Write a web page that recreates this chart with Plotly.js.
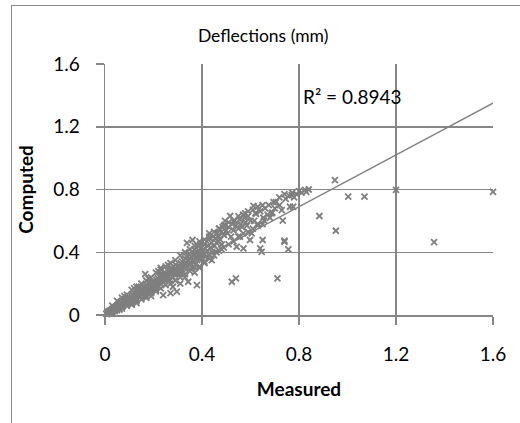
<!DOCTYPE html>
<html>
<head>
<meta charset="utf-8">
<script src="https://cdn.plot.ly/plotly-3.0.1.min.js"></script>
<style>
  html, body { margin: 0; padding: 0; background: #fff; }
  #wrap { position: relative; width: 520px; height: 423px; overflow: hidden; }
  #chart { position: absolute; left: 0; top: 0; width: 520px; height: 423px; }
  #frame { position: absolute; left: 11px; top: 5px; width: 700px; height: 700px;
           border-left: 1px solid #8a8a8a; border-top: 1px solid #8a8a8a; pointer-events: none; }
</style>
</head>
<body>
<div id="wrap"><div id="chart"></div><div id="frame"></div></div>
<script>
// Measured vs computed deflections (mm)
const measured = [
  0.005,0.01,0.012,0.015,0.018,0.02,0.022,0.025,0.028,0.03,0.032,0.035,0.038,0.04,0.042,0.045,0.048,0.01,0.02,0.03,0.04,0.05,
  0.052,0.055,0.058,0.06,0.062,0.065,0.068,0.07,0.072,0.075,0.078,0.08,0.082,0.085,0.088,0.09,0.092,0.095,0.098,0.1,0.06,0.07,0.08,0.09,
  0.102,0.105,0.108,0.11,0.112,0.115,0.118,0.12,0.122,0.125,0.128,0.13,0.132,0.135,0.138,0.14,0.142,0.145,0.148,0.15,0.11,0.12,0.13,0.14,
  0.152,0.155,0.158,0.16,0.162,0.165,0.168,0.17,0.172,0.175,0.178,0.18,0.182,0.185,0.188,0.19,0.192,0.195,0.198,0.2,0.166,0.17,0.18,0.19,
  0.202,0.205,0.208,0.21,0.212,0.215,0.218,0.22,0.222,0.225,0.228,0.23,0.232,0.235,0.238,0.24,0.242,0.245,0.248,0.25,0.21,0.22,0.24,0.23,
  0.252,0.255,0.258,0.26,0.262,0.265,0.268,0.27,0.272,0.275,0.278,0.28,0.282,0.285,0.288,0.29,0.292,0.295,0.298,0.3,0.27,0.296,0.26,0.28,
  0.302,0.305,0.308,0.31,0.312,0.315,0.318,0.32,0.322,0.325,0.328,0.33,0.332,0.335,0.338,0.34,0.342,0.345,0.348,0.35,0.338,0.343,0.31,0.33,
  0.352,0.355,0.358,0.36,0.362,0.365,0.368,0.37,0.372,0.375,0.378,0.38,0.382,0.385,0.388,0.39,0.392,0.395,0.398,0.4,0.361,0.379,0.37,0.39,
  0.402,0.405,0.41,0.412,0.415,0.42,0.422,0.425,0.43,0.432,0.435,0.44,0.442,0.445,0.45,0.41,0.43,0.44,
  0.452,0.455,0.46,0.462,0.465,0.47,0.472,0.475,0.48,0.482,0.485,0.49,0.495,0.5,0.46,0.48,0.495,
  0.505,0.51,0.516,0.52,0.525,0.53,0.535,0.54,0.543,0.55,0.555,0.557,0.56,0.565,0.571,0.575,0.578,0.58,0.585,0.59,0.598,0.6,
  0.605,0.612,0.615,0.62,0.623,0.63,0.64,0.64,0.646,0.65,0.653,0.656,0.66,0.67,0.675,0.68,0.687,0.69,0.695,0.7,
  0.705,0.711,0.719,0.72,0.729,0.733,0.74,0.74,0.74,0.745,0.756,0.76,0.763,0.77,0.772,0.776,0.78,0.79,0.8,0.81,0.825,0.83,0.84,
  0.523,0.54,0.884,0.948,0.952,1.003,1.07,1.2,1.357,1.6,
  0.03,0.05,0.07,0.09,0.11,0.13,0.15,0.17,0.19,0.21,0.23,0.25,0.27,0.29,0.31,0.33,0.35,0.37,0.39,0.41,0.43,0.45,0.47,0.49,0.51,0.53,0.55,0.57,0.59,0.61,0.63,0.65,
  0.03,0.05,0.07,0.09,0.11,0.13,0.15,0.17,0.19,0.21,0.23,0.25,0.27,0.29,0.31,0.33,0.35,0.37,0.39,0.41,0.43,0.45,0.47,0.49,0.51,0.53,0.55,0.57,0.59,0.61,0.63,0.65
];
const computed = [
  0.008,0.012,0.02,0.015,0.025,0.018,0.03,0.022,0.035,0.028,0.04,0.03,0.045,0.035,0.05,0.04,0.055,0.005,0.01,0.02,0.025,0.06,
  0.05,0.07,0.045,0.06,0.08,0.055,0.075,0.065,0.09,0.06,0.085,0.07,0.1,0.075,0.095,0.08,0.11,0.085,0.1,0.09,0.035,0.05,0.12,0.06,
  0.1,0.08,0.12,0.095,0.13,0.105,0.09,0.125,0.14,0.11,0.15,0.12,0.1,0.135,0.16,0.13,0.115,0.15,0.17,0.14,0.065,0.17,0.075,0.18,
  0.13,0.16,0.145,0.175,0.12,0.15,0.185,0.16,0.14,0.19,0.17,0.155,0.2,0.18,0.165,0.205,0.15,0.19,0.215,0.175,0.261,0.11,0.23,0.12,
  0.18,0.21,0.17,0.2,0.225,0.19,0.235,0.21,0.18,0.245,0.22,0.2,0.25,0.23,0.26,0.215,0.24,0.27,0.22,0.255,0.15,0.28,0.127,0.3,
  0.23,0.26,0.24,0.28,0.25,0.27,0.22,0.29,0.26,0.3,0.245,0.28,0.31,0.26,0.295,0.27,0.32,0.285,0.26,0.31,0.14,0.149,0.32,0.18,
  0.28,0.31,0.26,0.3,0.33,0.29,0.34,0.31,0.27,0.35,0.32,0.3,0.36,0.33,0.37,0.31,0.35,0.39,0.32,0.36,0.46,0.212,0.2,0.24,
  0.33,0.37,0.3,0.35,0.4,0.34,0.38,0.42,0.32,0.37,0.4,0.35,0.44,0.38,0.41,0.36,0.45,0.39,0.43,0.4,0.478,0.191,0.27,0.3,
  0.36,0.42,0.39,0.45,0.37,0.47,0.41,0.44,0.38,0.49,0.43,0.46,0.4,0.5,0.44,0.33,0.52,0.35,
  0.44,0.49,0.46,0.52,0.47,0.5,0.55,0.48,0.53,0.45,0.56,0.51,0.574,0.54,0.4,0.42,0.6,
  0.52,0.56,0.631,0.5,0.58,0.54,0.6,0.57,0.435,0.55,0.61,0.499,0.58,0.56,0.425,0.62,0.648,0.59,0.57,0.63,0.478,0.6,
  0.52,0.695,0.6,0.65,0.644,0.58,0.425,0.66,0.403,0.478,0.62,0.601,0.68,0.64,0.7,0.62,0.648,0.652,0.72,0.68,
  0.72,0.234,0.75,0.7,0.669,0.601,0.771,0.474,0.467,0.74,0.419,0.76,0.69,0.765,0.78,0.69,0.75,0.77,0.79,0.78,0.797,0.785,0.8,
  0.212,0.234,0.631,0.86,0.537,0.754,0.754,0.797,0.465,0.785,
  0.06,0.09,0.11,0.13,0.16,0.18,0.2,0.22,0.24,0.27,0.29,0.31,0.33,0.35,0.38,0.4,0.42,0.44,0.47,0.48,0.5,0.53,0.55,0.57,0.59,0.6,0.63,0.64,0.66,0.67,0.69,0.7,
  0.01,0.03,0.04,0.06,0.07,0.09,0.1,0.12,0.14,0.16,0.17,0.19,0.2,0.22,0.24,0.26,0.28,0.3,0.31,0.34,0.36,0.38,0.41,0.43,0.45,0.47,0.5,0.52,0.53,0.55,0.57,0.58
];
// Linear trendline end points
const trendX = [0, 1.6];
const trendY = [0.03, 1.35];
const tickVals = [0, 0.4, 0.8, 1.2, 1.6];
const tickText = ["0", "0.4", "0.8", "1.2", "1.6"];
const chartTitle = "Deflections (mm)";
const xTitle = "Measured";
const yTitle = "Computed";
const r2Label = "R² = 0.8943";

const font = "Lato, 'Open Sans', sans-serif";
const grey = "#868686";

const traces = [
  {
    x: measured, y: computed, type: "scatter", mode: "markers", cliponaxis: false,
    marker: { symbol: "x-thin", size: 6, color: "#7f7f7f", line: { color: "#7f7f7f", width: 1.8 } },
    hoverinfo: "skip", showlegend: false
  },
  {
    x: trendX, y: trendY, type: "scatter", mode: "lines",
    line: { color: "#808080", width: 1.5 }, hoverinfo: "skip", showlegend: false
  }
];

const axisCommon = {
  range: [0, 1.6], tickvals: tickVals, ticktext: tickText,
  showgrid: true, gridcolor: grey, gridwidth: 1.5,
  showline: true, linecolor: grey, linewidth: 1.5,
  ticks: "outside", ticklen: 8, tickcolor: grey, tickwidth: 1.5,
  zeroline: false, tickfont: { family: font, size: 19, color: "#000" },
  fixedrange: true
};

const layout = {
  width: 520, height: 423,
  margin: { l: 105, r: 27, t: 64, b: 108 },
  paper_bgcolor: "rgba(0,0,0,0)", plot_bgcolor: "#fff",
  title: { text: chartTitle, font: { family: font, size: 17.5, color: "#000" },
           x: 0.506, xref: "container", xanchor: "center", y: 0.915, yref: "container", yanchor: "middle" },
  xaxis: Object.assign({}, axisCommon, {
    ticklabelstandoff: 14,
    title: { text: xTitle, font: { family: font, size: 19, color: "#000", weight: "bold" }, standoff: 18 }
  }),
  yaxis: Object.assign({}, axisCommon, {
    ticklabelstandoff: 12,
    title: { text: yTitle, font: { family: font, size: 19, color: "#000", weight: "bold" }, standoff: 14 }
  }),
  annotations: [{
    text: r2Label, x: 0.81, y: 1.396, xref: "x", yref: "y", xanchor: "left", yanchor: "middle",
    showarrow: false, font: { family: font, size: 19, color: "#000" }
  }]
};

Plotly.newPlot("chart", traces, layout, { displayModeBar: false, staticPlot: true });
</script>
</body>
</html>
